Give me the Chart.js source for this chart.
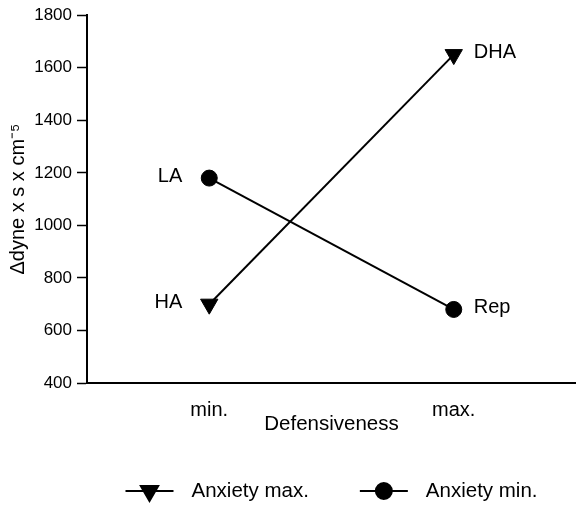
<!DOCTYPE html>
<html>
<head>
<meta charset="utf-8">
<script src="https://cdn.jsdelivr.net/npm/chart.js@4"></script>
<style>
  html, body { margin: 0; padding: 0; background: #fff; }
  #wrap { width: 576px; height: 505px; }
</style>
</head>
<body>
<div id="wrap"><canvas id="defChart" width="576" height="505"></canvas></div>
<script>
// values
const categories = ["min.", "max."];
const anxietyMax = [700, 1650];
const anxietyMin = [1180, 680];
const anxietyMaxTags = ["HA", "DHA"];
const anxietyMinTags = ["LA", "Rep"];
const seriesNames = ["Anxiety max.", "Anxiety min."];
const yMin = 400, yMax = 1800, yStep = 200;

const FONT = "'Liberation Sans', Arial, sans-serif";

// group tags next to each point: left of first category, right of second
const pointTags = {
    id: "pointTags",
    afterDatasetsDraw(chart) {
        const ctx = chart.ctx;
        ctx.save();
        ctx.font = "20px " + FONT;
        ctx.fillStyle = "#000";
        ctx.textBaseline = "middle";
        chart.data.datasets.forEach((ds, i) => {
            const meta = chart.getDatasetMeta(i);
            meta.data.forEach((pt, j) => {
                const tag = ds.tags[j];
                if (j === 0) {
                    ctx.textAlign = "right";
                    ctx.fillText(tag, pt.x - 27, pt.y - 2);
                } else {
                    ctx.textAlign = "left";
                    ctx.fillText(tag, pt.x + 20, pt.y - 2);
                }
            });
        });
        ctx.restore();
    }
};

// legend drawn as line + marker + name, like the printed figure
const lineLegend = {
    id: "lineLegend",
    afterDraw(chart) {
        const ctx = chart.ctx;
        const area = chart.chartArea;
        const y = 491;
        const lineLen = 48, gap = 18, itemGap = 51;
        ctx.save();
        ctx.font = "20.5px " + FONT;
        const widths = chart.data.datasets.map(ds => lineLen + gap + ctx.measureText(ds.label).width);
        const total = widths.reduce((a, b) => a + b, 0) + itemGap * (widths.length - 1);
        let x = (area.left + area.right) / 2 - total / 2;
        chart.data.datasets.forEach((ds, i) => {
            ctx.strokeStyle = "#000";
            ctx.lineWidth = 2;
            ctx.beginPath();
            ctx.moveTo(x, y);
            ctx.lineTo(x + lineLen, y);
            ctx.stroke();
            Chart.helpers.drawPoint(ctx, {
                pointStyle: ds.pointStyle,
                radius: ds.pointRadius,
                rotation: ds.pointRotation || 0,
                borderWidth: 1
            }, x + lineLen / 2, y);
            ctx.fillStyle = "#000";
            ctx.textAlign = "left";
            ctx.textBaseline = "middle";
            ctx.fillText(ds.label, x + lineLen + gap, y);
            x += widths[i] + itemGap;
        });
        ctx.restore();
    }
};

document.addEventListener("DOMContentLoaded", function () {
    const ctx = document.getElementById("defChart").getContext("2d");
    ctx.fillStyle = "#000";
    new Chart(ctx, {
        type: "line",
        data: {
            labels: categories,
            datasets: [{
                label: seriesNames[0],
                data: anxietyMax,
                tags: anxietyMaxTags,
                borderColor: "#000",
                backgroundColor: "#000",
                borderWidth: 2,
                pointStyle: "triangle",
                pointRotation: 180,
                pointRadius: 10,
                pointBorderWidth: 1,
                pointBackgroundColor: "#000",
                pointBorderColor: "#000",
                fill: false
            }, {
                label: seriesNames[1],
                data: anxietyMin,
                tags: anxietyMinTags,
                borderColor: "#000",
                backgroundColor: "#000",
                borderWidth: 2,
                pointStyle: "circle",
                pointRadius: 8,
                pointBorderWidth: 1,
                pointBackgroundColor: "#000",
                pointBorderColor: "#000",
                fill: false
            }]
        },
        options: {
            responsive: false,
            animation: false,
            events: [],
            layout: { autoPadding: false, padding: { top: 15, right: 0, bottom: 64, left: 2 } },
            plugins: {
                legend: { display: false },
                tooltip: { enabled: false }
            },
            scales: {
                x: {
                    offset: true,
                    grid: { display: false },
                    border: { display: true, color: "#000", width: 2 },
                    ticks: { color: "#000", font: { family: FONT, size: 20 }, padding: 7 },
                    title: { display: true, text: "Defensiveness", color: "#000", font: { family: FONT, size: 20.5 } },
                    afterFit(scale) {
                        scale.height = 58;
                        scale.paddingLeft = 0;
                        scale.paddingRight = 0;
                    }
                },
                y: {
                    min: yMin,
                    max: yMax,
                    grid: { drawOnChartArea: false, drawTicks: true, tickLength: 10, tickColor: "#000", tickWidth: 1.5 },
                    border: { display: true, color: "#000", width: 2 },
                    ticks: {
                        stepSize: yStep,
                        color: "#000",
                        font: { family: FONT, size: 17 },
                        padding: 5,
                        callback: v => String(v)
                    },
                    title: { display: true, text: "\u0394dyne x s x cm\u207B\u2075", color: "#000", font: { family: FONT, size: 20 }, padding: { top: 4, bottom: 4 } },
                    afterFit(scale) { scale.width = 85; }
                }
            }
        },
        plugins: [pointTags, lineLegend]
    });
});
</script>
</body>
</html>
